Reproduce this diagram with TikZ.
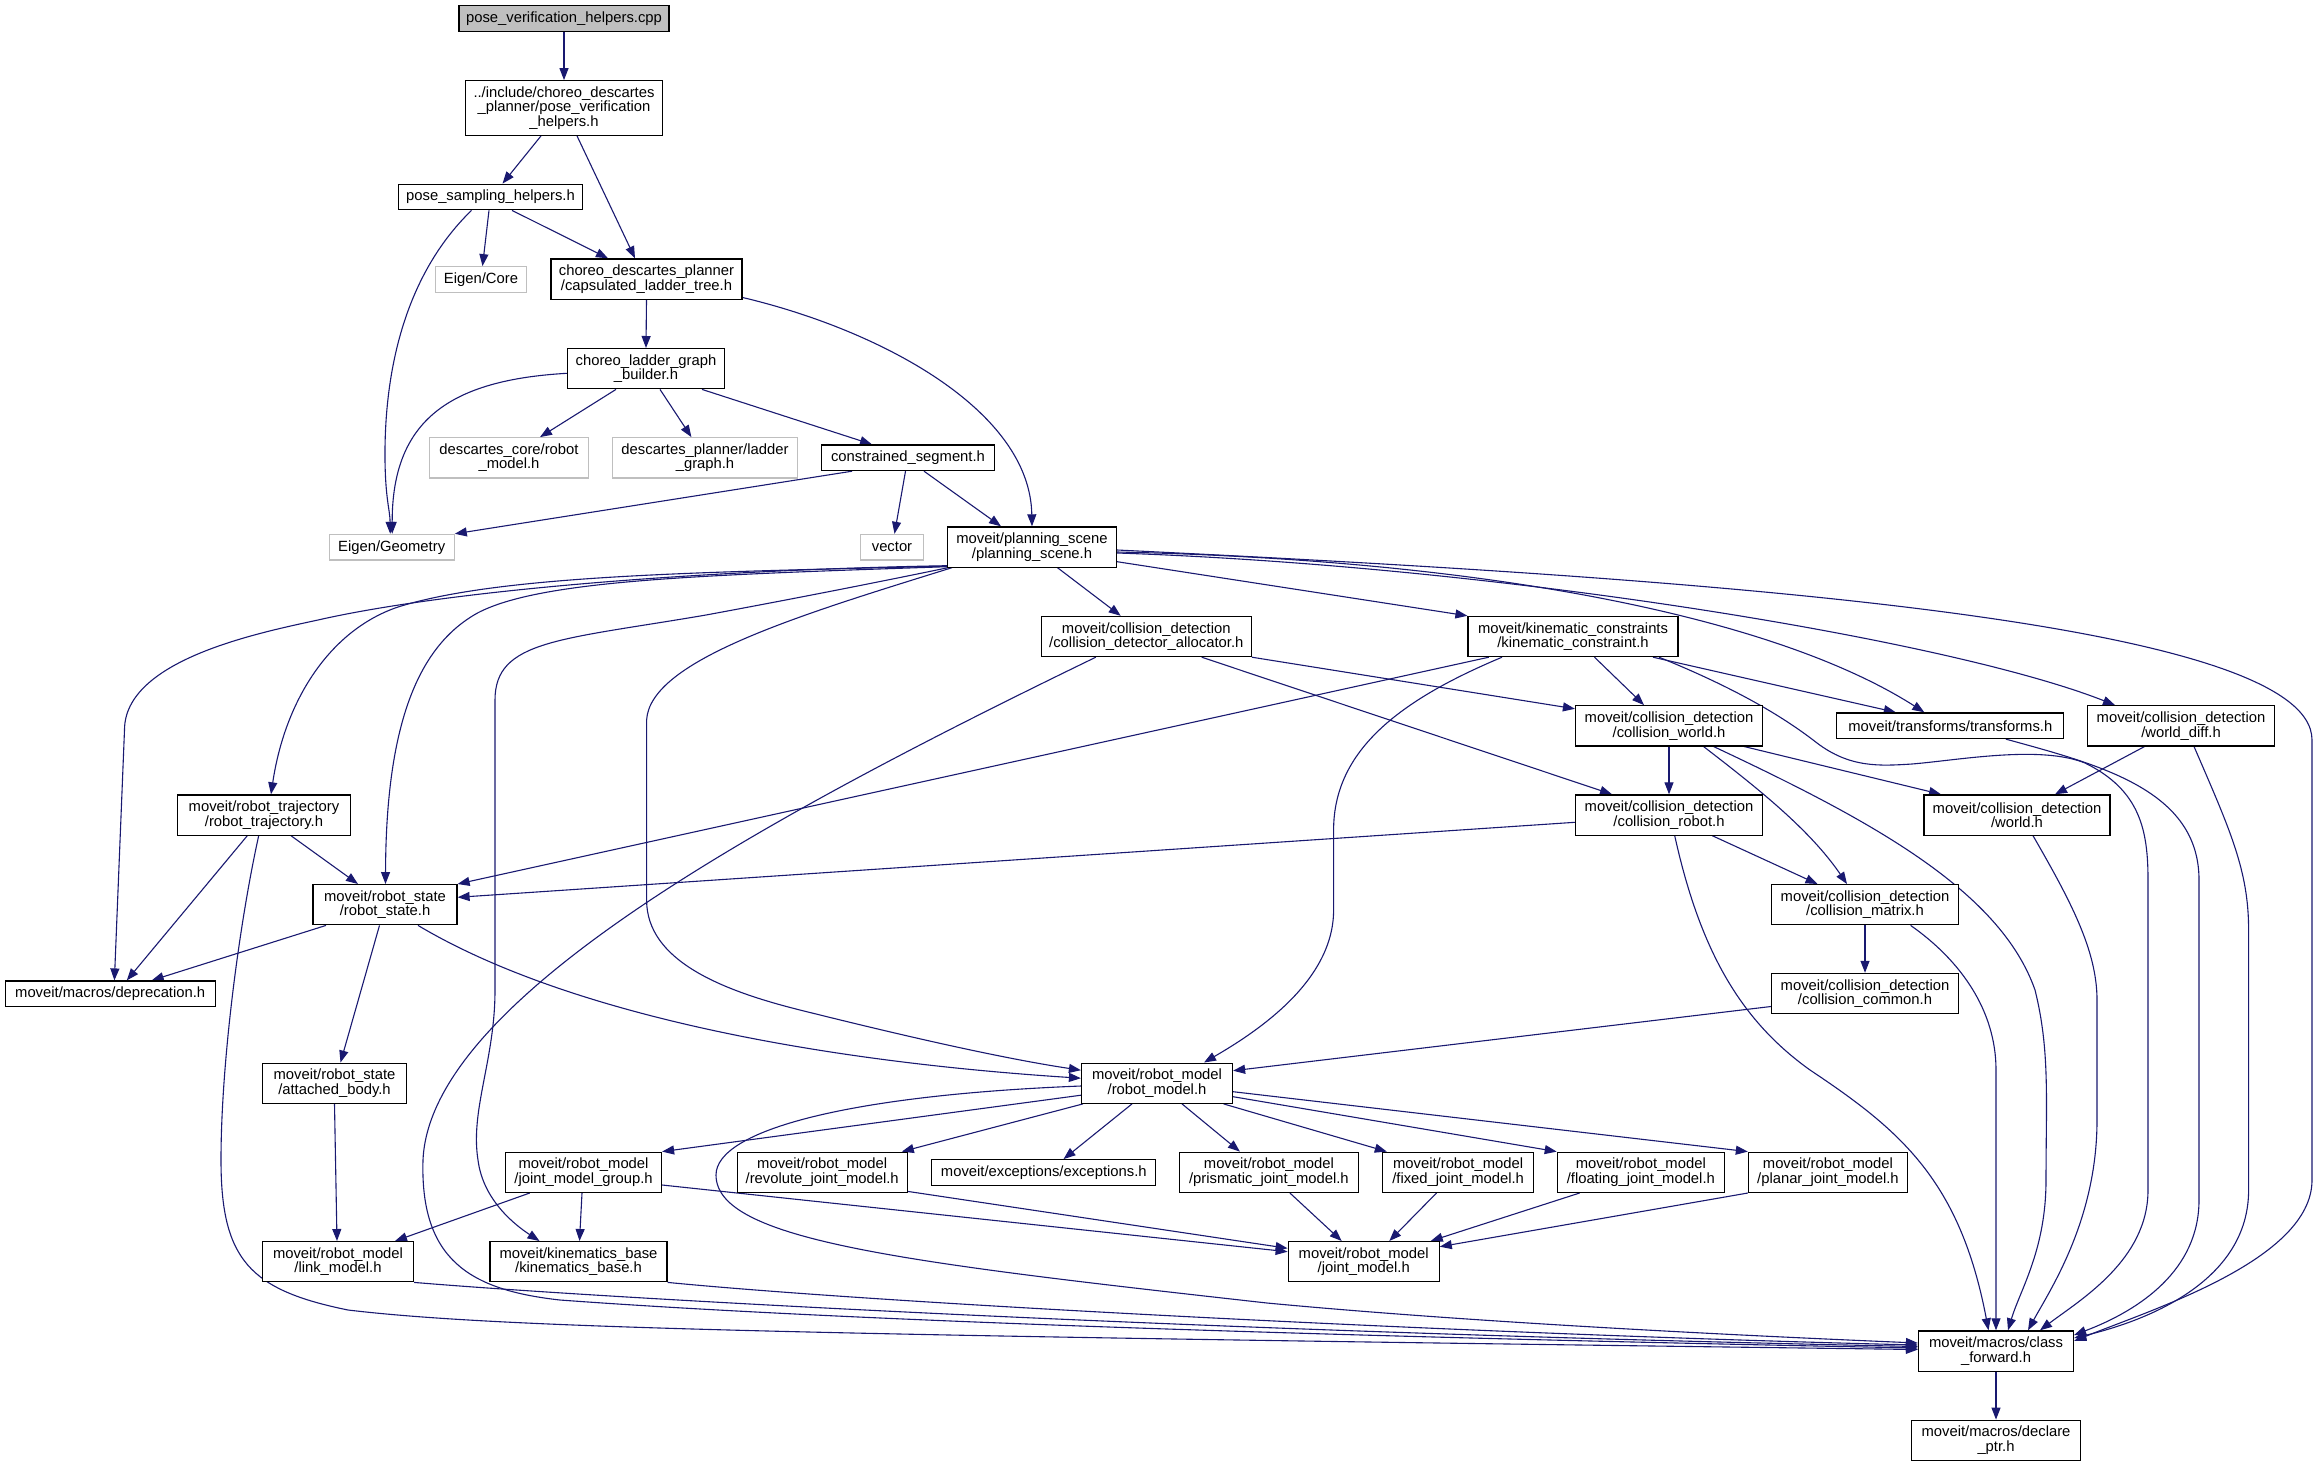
\documentclass[tikz,border=0pt]{standalone}
\usepackage{fontspec}
\setmainfont{Liberation Sans}
\usetikzlibrary{arrows.meta,calc}
\definecolor{edgeblue}{HTML}{191970}
\definecolor{extgray}{HTML}{BFBFBF}
\pgfdeclarelayer{background}
\pgfsetlayers{background,main}
\begin{document}
\begin{tikzpicture}[x=0.5pt,y=-0.5pt,
  box/.style={draw=black, fill=white, line width=0.6pt, inner sep=0pt, align=center, font=\fontsize{7.4pt}{7.3pt}\selectfont},
  extbox/.style={box, draw=extgray},
  rootbox/.style={box, fill=extgray},
  one/.style={minimum height=12.8pt},
  two/.style={minimum height=20.1pt},
  dep/.style={draw=edgeblue, line width=0.55pt, -{Triangle[length=6pt,width=4.5pt]}}]
\useasboundingbox (0,0) rectangle (2317,1467);

\node[rootbox, one, minimum width=105pt] (cpp) at (564,18.5) {pose\_verification\_helpers.cpp};
\node[box, minimum height=27.3pt, minimum width=98.5pt] (pvh) at (564,108) {../include/choreo\_descartes\\\_planner/pose\_verification\\\_helpers.h};
\node[box, one, minimum width=92pt] (psh) at (490.5,197) {pose\_sampling\_helpers.h};
\node[extbox, one, minimum width=45.5pt] (ecore) at (481,279.5) {Eigen/Core};
\node[box, two, minimum width=95.5pt] (caps) at (646.5,279) {choreo\_descartes\_planner\\/capsulated\_ladder\_tree.h};
\node[box, two, minimum width=78.5pt] (builder) at (646,368.7) {choreo\_ladder\_graph\\\_builder.h};
\node[extbox, two, minimum width=79.5pt] (dcore) at (509,457.8) {descartes\_core/robot\\\_model.h};
\node[extbox, two, minimum width=92.5pt] (dplanner) at (705,457.8) {descartes\_planner/ladder\\\_graph.h};
\node[box, one, minimum width=86.5pt] (constr) at (908,457.8) {constrained\_segment.h};
\node[extbox, one, minimum width=62.5pt] (egeo) at (391.7,547.2) {Eigen/Geometry};
\node[extbox, one, minimum width=31.5pt] (vector) at (892,547.2) {vector};
\node[box, two, minimum width=84.5pt] (ps) at (1032,547) {moveit/planning\_scene\\/planning\_scene.h};
\node[box, two, minimum width=105pt] (cda) at (1146.3,636.5) {moveit/collision\_detection\\/collision\_detector\_allocator.h};
\node[box, two, minimum width=105pt] (kc) at (1573,636.5) {moveit/kinematic\_constraints\\/kinematic\_constraint.h};
\node[box, two, minimum width=93.5pt] (cw) at (1669,725.8) {moveit/collision\_detection\\/collision\_world.h};
\node[box, one, minimum width=113.5pt] (tf) at (1950.3,725.7) {moveit/transforms/transforms.h};
\node[box, two, minimum width=93.5pt] (wd) at (2181,725.8) {moveit/collision\_detection\\/world\_diff.h};
\node[box, two, minimum width=86.5pt] (rtraj) at (264,815) {moveit/robot\_trajectory\\/robot\_trajectory.h};
\node[box, two, minimum width=93.5pt] (cr) at (1669,815) {moveit/collision\_detection\\/collision\_robot.h};
\node[box, two, minimum width=93pt] (world) at (2017,815) {moveit/collision\_detection\\/world.h};
\node[box, two, minimum width=72pt] (rstate) at (385,904.7) {moveit/robot\_state\\/robot\_state.h};
\node[box, two, minimum width=93.5pt] (cm) at (1865,904.7) {moveit/collision\_detection\\/collision\_matrix.h};
\node[box, one, minimum width=105pt] (depr) at (110.2,993.8) {moveit/macros/deprecation.h};
\node[box, two, minimum width=93.5pt] (cc) at (1865,993.5) {moveit/collision\_detection\\/collision\_common.h};
\node[box, two, minimum width=72pt] (ab) at (334.5,1083.2) {moveit/robot\_state\\/attached\_body.h};
\node[box, two, minimum width=75.5pt] (rm) at (1157,1083.2) {moveit/robot\_model\\/robot\_model.h};
\node[box, two, minimum width=78pt] (jmg) at (583.5,1172.3) {moveit/robot\_model\\/joint\_model\_group.h};
\node[box, two, minimum width=85pt] (rev) at (822.2,1172.3) {moveit/robot\_model\\/revolute\_joint\_model.h};
\node[box, one, minimum width=112pt] (exc) at (1043.8,1172.5) {moveit/exceptions/exceptions.h};
\node[box, two, minimum width=89.5pt] (pri) at (1268.9,1172.3) {moveit/robot\_model\\/prismatic\_joint\_model.h};
\node[box, two, minimum width=75.5pt] (fix) at (1458.1,1172.3) {moveit/robot\_model\\/fixed\_joint\_model.h};
\node[box, two, minimum width=83.5pt] (flo) at (1640.8,1172.3) {moveit/robot\_model\\/floating\_joint\_model.h};
\node[box, two, minimum width=79.5pt] (pla) at (1827.9,1172.3) {moveit/robot\_model\\/planar\_joint\_model.h};
\node[box, two, minimum width=75.5pt] (lm) at (338,1261.7) {moveit/robot\_model\\/link\_model.h};
\node[box, two, minimum width=88.5pt] (kb) at (578.5,1261.7) {moveit/kinematics\_base\\/kinematics\_base.h};
\node[box, two, minimum width=75.5pt] (jm) at (1363.7,1261.7) {moveit/robot\_model\\/joint\_model.h};
\node[box, two, minimum width=77.5pt] (cf) at (1996,1351) {moveit/macros/class\\\_forward.h};
\node[box, two, minimum width=84.5pt] (dp) at (1996,1440.3) {moveit/macros/declare\\\_ptr.h};

\begin{pgfonlayer}{background}
\draw[dep] (cpp.south) -- (pvh.north);
\draw[dep] ($(pvh.south)+(-23,0)$) -- ($(psh.north)+(12,0)$);
\draw[dep] ($(pvh.south)+(13,0)$) -- ($(caps.north)+(-11.5,0)$);
\draw[dep] ($(psh.south)+(-1.5,0)$) -- ($(ecore.north)+(1.5,0)$);
\draw[dep] ($(psh.south)+(21.5,0)$) -- ($(caps.north)+(-38.5,0)$);
\draw[dep] ($(psh.south)+(-19,0)$) .. controls (410,270) and (384,360) .. (385,460) .. controls (385.5,500) and (390,510) .. ($(egeo.north)+(-1.5,0)$);
\draw[dep] (caps.south) -- (builder.north);
\draw[dep] ($(caps.east)+(0,18.5)$) .. controls (880,330) and (1030,410) .. (ps.north);
\draw[dep] ($(builder.south)+(-30,0)$) -- ($(dcore.north)+(31,0)$);
\draw[dep] ($(builder.south)+(14,0)$) -- ($(dplanner.north)+(-13.6,0)$);
\draw[dep] ($(builder.south)+(56,0)$) -- ($(constr.north)+(-36,0)$);
\draw[dep] ($(builder.west)+(0,4.6)$) .. controls (450,380) and (392,420) .. ($(egeo.north)+(0.5,0)$);
\draw[dep] ($(constr.south)+(-56,0)$) -- (egeo.north east);
\draw[dep] ($(constr.south)+(-2.5,0)$) -- ($(vector.north)+(2.5,0)$);
\draw[dep] ($(constr.south)+(16,0)$) -- ($(ps.north)+(-31,0)$);

\draw[dep] ($(ps.south)+(25.5,0)$) -- ($(cda.north)+(-25.6,0)$);
\draw[dep] ($(ps.east)+(0,14.7)$) -- (kc.north west);
\draw[dep] ($(ps.east)+(0,5)$) .. controls (1500,560) and (1780,620) .. ($(tf.north)+(-26,0)$);
\draw[dep] ($(ps.east)+(0,6)$) .. controls (1500,566) and (1950,640) .. ($(wd.north)+(-66,0)$);
\draw[dep] ($(ps.east)+(0,3)$) .. controls (1700,578) and (2312,620) .. (2312,740) -- (2312,1180) .. controls (2312,1260) and (2150,1310) .. ($(cf.east)+(0,-10)$);
\draw[dep] ($(ps.south west)+(0,-2)$) .. controls (700,570) and (450,590) .. (318,620) .. controls (258,633) and (124.5,660) .. (124.5,730) -- ($(depr.north)+(4.2,0)$);
\draw[dep] ($(ps.south west)+(0,-1.5)$) .. controls (700,572) and (500,575) .. (398,607) .. controls (330,630) and (285,700) .. ($(rtraj.north)+(7,0)$);
\draw[dep] ($(ps.south west)+(0,-1)$) .. controls (700,575) and (540,580) .. (477.5,613) .. controls (420,645) and (386,720) .. ($(rstate.north)+(0.5,0)$);
\draw[dep] ($(ps.south west)+(1,0)$) .. controls (850,588) and (760,605) .. (706,615) .. controls (560,640) and (495,640) .. (495,700) -- (495,990) .. controls (495,1060) and (470,1110) .. (478,1160) .. controls (483,1200) and (515,1225) .. ($(kb.north)+(-39,0)$);
\draw[dep] ($(ps.south west)+(5,0)$) .. controls (800,615) and (650,660) .. (646.6,720) -- (646.6,900) .. controls (646.6,960) and (720,990) .. (800,1010) .. controls (900,1035) and (1000,1058) .. ($(rm.west)+(0,-13)$);

\draw[dep] (cda.south east) -- ($(cw.west)+(0,-17)$);
\draw[dep] ($(cda.south)+(55.4,0)$) -- ($(cr.north)+(-57,0)$);
\draw[dep] ($(cda.south)+(-50.5,0)$) .. controls (760,820) and (430,1000) .. (423,1160) .. controls (420,1260) and (470,1290) .. (560,1300) .. controls (900,1325) and (1500,1340) .. ($(cf.west)+(0,-3)$);

\draw[dep] ($(kc.south)+(-84.2,0)$) -- (rstate.north east);
\draw[dep] ($(kc.south)+(-71,0)$) .. controls (1400,700) and (1333.6,750) .. (1333.6,830) -- (1333.6,910) .. controls (1333.6,980) and (1260,1030) .. ($(rm.north)+(47,0)$);
\draw[dep] ($(kc.south)+(21.5,0)$) -- ($(cw.north)+(-25,0)$);
\draw[dep] ($(kc.south)+(80,0)$) -- ($(tf.north)+(-54.5,0)$);
\draw[dep] ($(kc.south)+(86,0)$) .. controls (1745,692) and (1790,722) .. (1817,743) .. controls (1850,768) and (1880,766) .. (1912,764) .. controls (1960,760) and (2040,745) .. (2085,763) .. controls (2140,790) and (2148,830) .. (2148,880) -- (2148,1190) .. controls (2148,1260) and (2080,1300) .. ($(cf.north)+(44,0)$);

\draw[dep] (cw.south) -- (cr.north);
\draw[dep] ($(cw.south)+(75,0)$) -- ($(world.north)+(-76,0)$);
\draw[dep] ($(cw.south)+(34.5,0)$) .. controls (1760,790) and (1810,830) .. ($(cm.north)+(-18,0)$);
\draw[dep] ($(cw.south)+(44.5,0)$) .. controls (1870,820) and (2000,890) .. (2035,990) .. controls (2050,1050) and (2046,1100) .. (2046,1180) .. controls (2046,1250) and (2020,1290) .. ($(cf.north)+(12,0)$);

\draw[dep] ($(cr.west)+(0,7.3)$) -- ($(rstate.east)+(0,-7.4)$);
\draw[dep] ($(cr.south)+(43.3,0)$) -- ($(cm.north)+(-47.5,0)$);
\draw[dep] ($(cr.south)+(5.7,0)$) .. controls (1700,950) and (1740,1020) .. (1810,1070) .. controls (1900,1130) and (1960,1180) .. ($(cf.north)+(-7.5,0)$);

\draw[dep] ($(world.south)+(16,0)$) .. controls (2070,900) and (2097,950) .. (2097,1000) -- (2097,1120) .. controls (2097,1220) and (2050,1290) .. ($(cf.north)+(32,0)$);
\draw[dep] ($(wd.south)+(-36.4,0)$) -- ($(world.north)+(38,0)$);
\draw[dep] ($(wd.south)+(13,0)$) .. controls (2230,830) and (2248.6,870) .. (2248.6,930) -- (2248.6,1190) .. controls (2248.6,1280) and (2150,1320) .. ($(cf.east)+(0,-13)$);
\draw[dep] ($(tf.south)+(55.5,0)$) .. controls (2100,765) and (2199,790) .. (2199,880) -- (2199,1200) .. controls (2199,1270) and (2140,1310) .. ($(cf.east)+(0,-16)$);
\draw[dep] (cm.south) -- (cc.north);
\draw[dep] ($(cm.south)+(45.6,0)$) .. controls (1960,960) and (1996,1010) .. (1996,1070) -- (cf.north);
\draw[dep] ($(cc.west)+(0,13)$) -- ($(rm.east)+(0,-12.5)$);

\draw[dep] ($(rtraj.south)+(27,0)$) -- ($(rstate.north)+(-27,0)$);
\draw[dep] ($(rtraj.south)+(-16.7,0)$) -- ($(depr.north)+(16.6,0)$);
\draw[dep] ($(rtraj.south)+(-5.3,0)$) .. controls (240,920) and (221,1060) .. (221,1160) .. controls (221,1260) and (250,1290) .. (348,1310) .. controls (500,1328) and (800,1335) .. ($(cf.west)+(0,-1.5)$);
\draw[dep] ($(rstate.south)+(-59,0)$) -- ($(depr.north)+(41.5,0)$);
\draw[dep] ($(rstate.south)+(-5.5,0)$) -- ($(ab.north)+(6,0)$);
\draw[dep] ($(rstate.south)+(33,0)$) .. controls (560,1010) and (800,1060) .. ($(rm.west)+(0,-5)$);
\draw[dep] (ab.south) -- ($(lm.north)+(-1,0)$);

\draw[dep] ($(jmg.south)+(-53.8,0)$) -- ($(lm.north)+(57,0)$);
\draw[dep] ($(jmg.south)+(-1.5,0)$) -- ($(kb.north)+(1,0)$);
\draw[dep] ($(jmg.east)+(0,12.7)$) -- ($(jm.west)+(0,-10)$);
\draw[dep] ($(rev.south east)+(0,-1.6)$) -- ($(jm.west)+(0,-13.4)$);
\draw[dep] ($(pri.south)+(21,0)$) -- ($(jm.north)+(-22,0)$);
\draw[dep] ($(fix.south)+(-21.6,0)$) -- ($(jm.north)+(25.6,0)$);
\draw[dep] ($(flo.south)+(-61.2,0)$) -- ($(jm.north)+(67,0)$);
\draw[dep] (pla.south west) -- ($(jm.east)+(0,-15)$);

\draw[dep] ($(rm.west)+(0,12)$) -- (jmg.north east);
\draw[dep] ($(rm.south west)+(2,0)$) -- ($(rev.north)+(79.6,0)$);
\draw[dep] ($(rm.south)+(-25,0)$) -- ($(exc.north)+(19.7,0)$);
\draw[dep] ($(rm.south)+(25,0)$) -- ($(pri.north)+(-29,0)$);
\draw[dep] ($(rm.south)+(66.6,0)$) -- ($(fix.north)+(-71.3,0)$);
\draw[dep] ($(rm.east)+(0,13.5)$) -- (flo.north west);
\draw[dep] ($(rm.east)+(0,8.5)$) -- (pla.north west);
\draw[dep] ($(rm.west)+(0,2.8)$) .. controls (850,1095) and (716,1130) .. (716,1175) .. controls (716,1240) and (900,1262) .. (1267,1303) .. controls (1500,1325) and (1800,1338) .. ($(cf.west)+(0,-8)$);

\draw[dep] (lm.south east) .. controls (600,1298) and (1200,1332) .. ($(cf.west)+(0,-4.5)$);
\draw[dep] (kb.south east) .. controls (900,1305) and (1500,1335) .. ($(cf.west)+(0,-6)$);
\draw[dep] (cf.south) -- (dp.north);
\end{pgfonlayer}
\end{tikzpicture}
\end{document}
